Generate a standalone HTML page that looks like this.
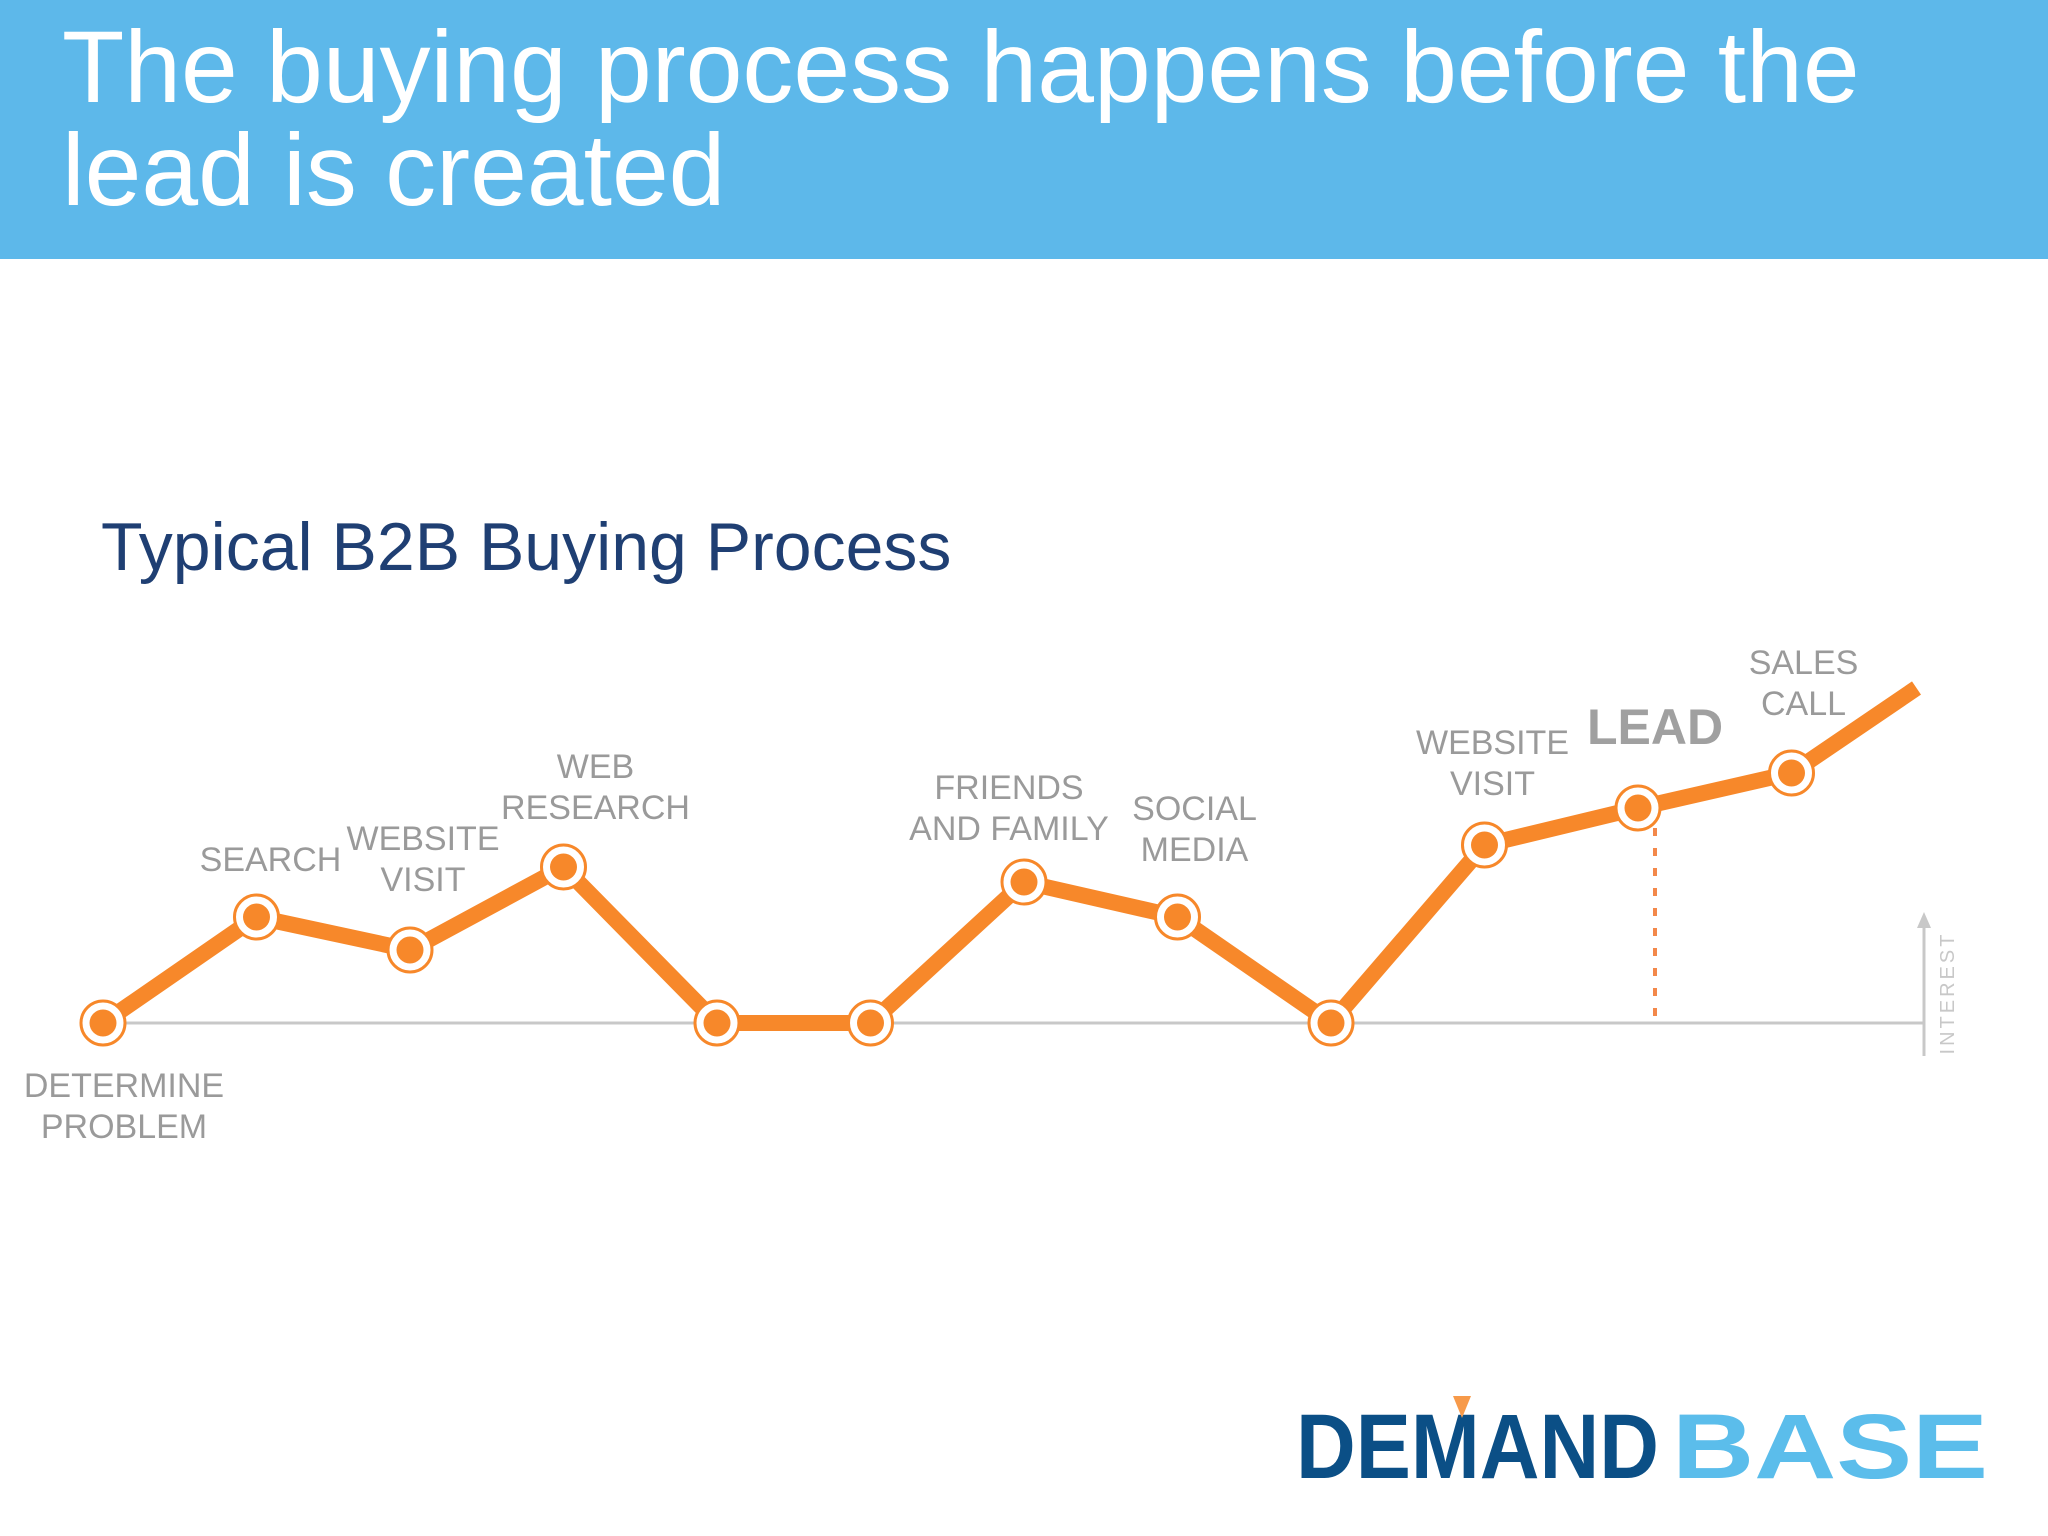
<!DOCTYPE html>
<html><head><meta charset="utf-8"><style>
html,body{margin:0;padding:0;background:#fff;}
body{width:2048px;height:1536px;overflow:hidden;position:relative;font-family:"Liberation Sans",sans-serif;}
#hdr{position:absolute;left:0;top:0;width:2048px;height:259px;background:#5DB8EA;}
#title{position:absolute;left:62px;top:16px;color:#fff;font-size:102px;line-height:103px;margin:0;font-weight:normal;}
#sub{position:absolute;left:101px;top:508px;color:#1F3F73;font-size:68px;margin:0;font-weight:normal;}
</style></head><body>
<div id="hdr"><h1 id="title">The buying process happens before the<br>lead is created</h1></div>
<h2 id="sub">Typical B2B Buying Process</h2>
<svg id="chart" width="2048" height="1536" style="position:absolute;left:0;top:0">
<g id="base"></g><g id="marks"></g><g id="labels"></g>
<g>
<text x="1296" y="1478" font-family="Liberation Sans" font-weight="bold" font-size="92" fill="#0B4F86" textLength="363" lengthAdjust="spacingAndGlyphs">DEMAND</text>
<text x="1672" y="1478" font-family="Liberation Sans" font-weight="bold" font-size="92" fill="#5BBDEB" textLength="316" lengthAdjust="spacingAndGlyphs">BASE</text>
<polygon points="1453,1396 1471,1396 1462,1418" fill="#F79A4A"/>
</g>
</svg>
<script>
const interest=[0,106,73,156,0,0,141,106,0,178,215,250];
const endInterest=335;
const labelText=["DETERMINE|PROBLEM","SEARCH","WEBSITE|VISIT","WEB|RESEARCH","","","FRIENDS|AND FAMILY","SOCIAL|MEDIA","","WEBSITE|VISIT","","SALES|CALL"];
const leadIndex=10;
const NS="http://www.w3.org/2000/svg";
const x0=103,dx=153.5,baseY=1023;
function xs(i){return x0+i*dx;}
function ys(v){return baseY-v;}
function mk(t,a,p){const e=document.createElementNS(NS,t);for(const k in a)e.setAttribute(k,a[k]);p.appendChild(e);return e;}
const base=document.getElementById('base'),marks=document.getElementById('marks'),labels=document.getElementById('labels');
let l=mk('line',{x1:x0,y1:baseY,x2:1924,y2:baseY,stroke:'#c8c8c8','stroke-width':3},base);


let ax=mk('line',{x1:1924,y1:1056,x2:1924,y2:925,stroke:'#c8c8c8','stroke-width':3},base);


let ah=mk('polygon',{points:'1917,928 1931,928 1924,912',fill:'#c8c8c8'},base);


let it=mk('text',{x:0,y:0,transform:'translate(1954,993) rotate(-90)','text-anchor':'middle','font-size':20,fill:'#c8c8c8','letter-spacing':3,'font-family':'Liberation Sans'},base);
it.textContent='INTEREST';


let dl=mk('line',{x1:xs(leadIndex)+17,y1:ys(interest[leadIndex]),x2:xs(leadIndex)+17,y2:baseY,stroke:'#F3884A','stroke-width':4,'stroke-dasharray':'8 12'},base);


let pts=interest.map((v,i)=>xs(i)+','+ys(v)).join(' ')+' '+(xs(interest.length-1)+125)+','+ys(endInterest);
let pl=mk('polyline',{points:pts,fill:'none',stroke:'#F7882A','stroke-width':16,'stroke-linejoin':'round'},marks);


interest.forEach((v,i)=>{
 const g=mk('g',{},marks);
 
 
 mk('circle',{cx:xs(i),cy:ys(v),r:22,fill:'#fff',stroke:'#F7882A','stroke-width':3},g);
 mk('circle',{cx:xs(i),cy:ys(v),r:13.5,fill:'#F7882A'},g);
 const t=labelText[i];
 if(!t)return;
 const lines=t.split('|');
 const below=(i===0);
 const lh=41;
 const tx=mk('text',{'text-anchor':'middle','font-size':34,fill:'#9a9a9a','font-family':'Liberation Sans'},labels);
 
 
 const offs={0:[21,74],1:[14,-46],2:[13,-59],3:[32,-48],6:[-15,-42],7:[17,-56],9:[8,-50],11:[12,-58]};
 const o=offs[i]||[0,-60];
 const cx=xs(i)+o[0];
 const topY=ys(v)+o[1]-(below?0:(lines.length-1)*lh);
 lines.forEach((s,k)=>{const ts=mk('tspan',{x:cx,y:topY+k*lh},tx);ts.textContent=s;});
});
let ld=mk('text',{x:xs(leadIndex)+17,y:744,'text-anchor':'middle','font-size':50,'font-weight':'bold',fill:'#a0a0a0','font-family':'Liberation Sans'},labels);
ld.textContent='LEAD';


</script>
</body></html>
